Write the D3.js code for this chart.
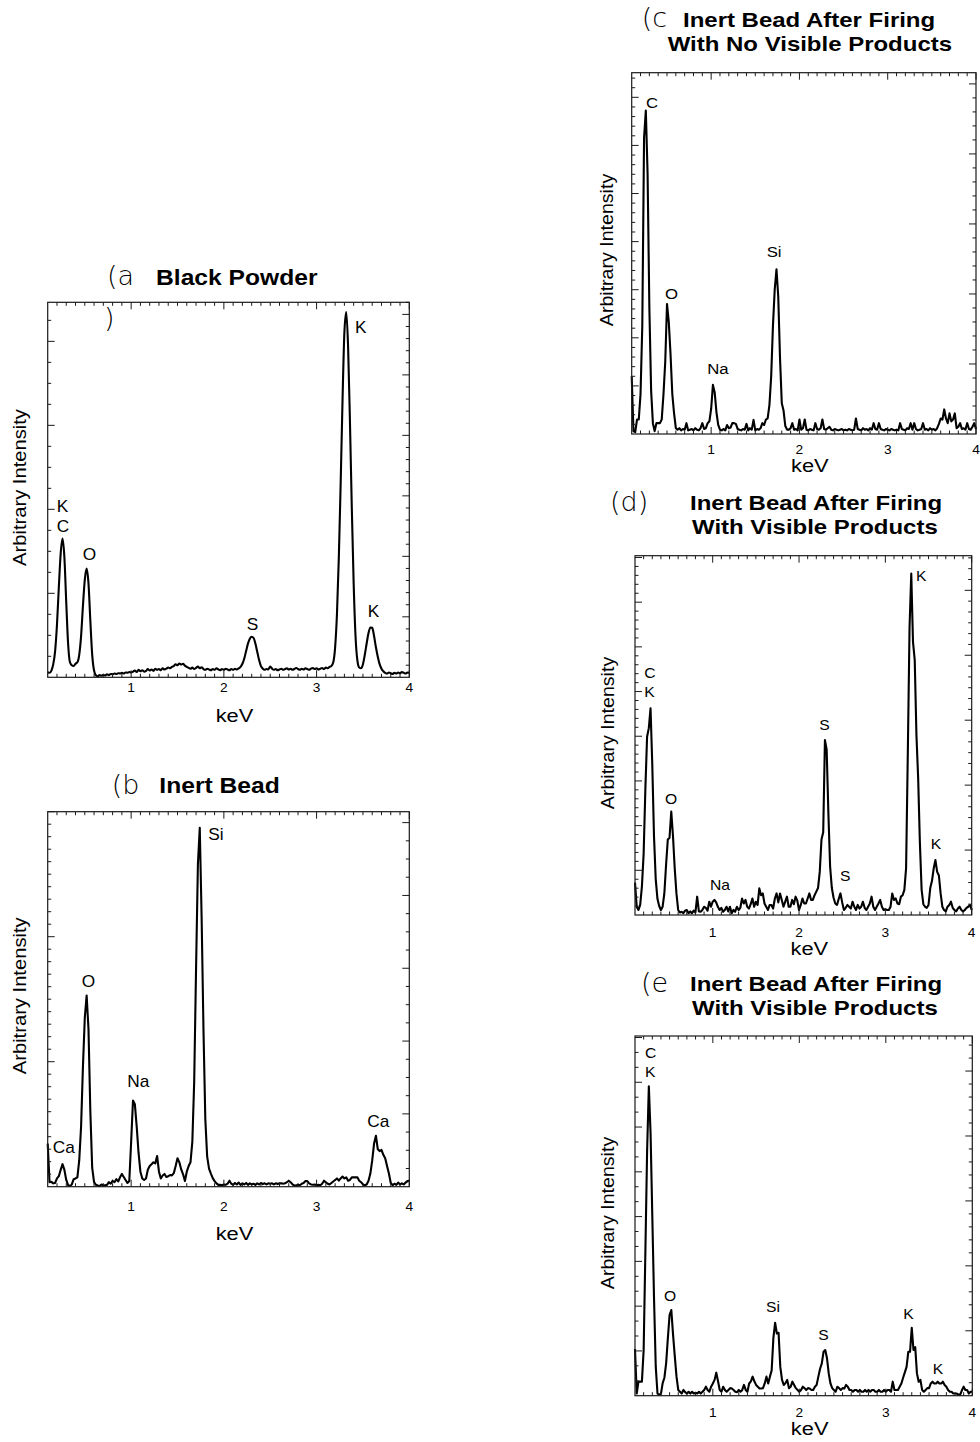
<!DOCTYPE html>
<html>
<head>
<meta charset="utf-8">
<script src="https://cdn.jsdelivr.net/npm/d3@7"></script>
<style>
  html, body { margin: 0; padding: 0; background: #fff; }
  svg { display: block; }
</style>
</head>
<body>
<svg id="fig" width="980" height="1442"></svg>
<script>
// ---------------------------------------------------------------
// EDS spectra: intensity (percent of panel full scale) per channel.
// Channels start at 0.10 keV and are 0.02 keV wide (0.10 … 4.00).
// ---------------------------------------------------------------
const ENERGY_START = 0.1;
const ENERGY_STEP = 0.02;
const energyMajorTicks = [1, 2, 3, 4];
const energyTickLabels = ["1", "2", "3", "4"];

// (a) black powder
const blackPowder = [
  1.4, 1.2, 1.8, 3.5, 7, 14, 24, 33, 37, 32,
  20, 9, 4, 3.2, 3.0, 3.6, 4.0, 6, 11, 19,
  26, 29, 25, 15, 6, 1.8, 0.5, 0.3, 0.6, 0.4,
  0.7, 0.5, 0.8, 0.6, 0.9, 0.8, 1.0, 0.9, 1.1, 1.0,
  1.2, 1.0, 1.3, 1.2, 1.4, 1.3, 1.5, 1.8, 1.4, 2.0,
  1.6, 1.9, 1.5, 1.7, 2.2, 1.8, 2.1, 1.7, 2.3, 2.0,
  2.2, 1.9, 2.4, 2.1, 2.3, 2.6, 2.4, 2.8, 3.0, 3.5,
  3.2, 3.7, 3.4, 3.6, 3.1, 2.8, 2.5, 2.3, 2.6, 2.2,
  2.5, 2.9, 2.4, 2.7, 2.2, 2.0, 2.3, 2.1, 1.9, 2.2,
  2.0, 2.4, 2.1, 1.9, 2.2, 2.0, 2.3, 2.1, 1.9, 2.2,
  2.0, 2.3, 2.1, 2.4, 2.8, 3.6, 5.0, 7.0, 9.0, 10.3,
  10.8, 10.5, 9.0, 6.8, 4.6, 3.0, 2.3, 2.0, 2.2, 2.1,
  2.9, 2.3, 2.0, 2.2, 1.9, 2.1, 2.3, 2.0, 2.2, 2.4,
  2.1, 2.3, 2.0, 2.2, 2.5, 2.2, 2.0, 2.3, 2.1, 2.4,
  2.2, 2.0, 2.3, 2.5, 2.2, 2.4, 2.1, 2.3, 2.5, 2.2,
  2.6, 2.4, 2.8, 3.0, 4.0, 8, 17, 32, 52, 74,
  92, 97.4, 88, 68, 45, 25, 11, 4.5, 2.6, 2.4,
  3.5, 6, 9, 11.8, 13.3, 13.2, 11, 8, 5.5, 3.5,
  2.3, 1.6, 1.2, 1.0, 1.3, 1.1, 0.9, 1.2, 1.0, 1.3,
  1.1, 1.4, 1.2, 1.0, 1.3, 1.2
];

// (b) inert bead
const inertBead = [
  11.5, 1.2, 1.3, 0.9, 1.0, 2.2, 2.8, 4.5, 6.0, 4.5,
  1.8, 0.4, 0.2, 0.6, 2.0, 2.2, 2.5, 7, 16, 32,
  45, 51, 42, 20, 5, 1.2, 0.5, 0.3, 0.2, 0.6,
  0.3, 0.4, 0.5, 1.2, 0.8, 1.6, 1.2, 2.0, 1.4, 2.5,
  3.4, 2.6, 1.8, 1.0, 1.5, 12, 23, 22, 16, 9,
  4, 2.2, 1.8, 2.2, 4.5, 5.5, 6.0, 6.5, 6.2, 8.2,
  4.0, 2.2, 3.0, 3.4, 2.6, 2.8, 3.1, 3.0, 3.6, 5.5,
  7.6, 6.5, 4.6, 3.3, 1.5, 4.0, 5.5, 6.5, 12, 28,
  58, 86, 95.7, 72, 42, 18, 8, 4.8, 3.5, 2.3,
  1.5, 0.9, 0.5, 0.5, 0.4, 0.6, 0.5, 0.8, 1.6, 0.8,
  0.5, 1.0, 0.6, 1.1, 0.5, 0.9, 0.6, 1.0, 0.5, 0.9,
  0.6, 0.8, 0.5, 0.9, 0.6, 1.0, 0.7, 0.9, 0.6, 0.9,
  0.8, 0.9, 0.6, 0.9, 0.7, 0.9, 0.9, 0.8, 0.9, 1.2,
  1.6, 1.2, 0.6, 0.4, 0.3, 0.5, 0.4, 0.8, 1.0, 1.5,
  1.5, 0.9, 0.6, 0.5, 0.6, 0.4, 0.5, 0.4, 0.8, 1.6,
  1.2, 0.8, 0.6, 1.0, 1.4, 1.8, 2.2, 1.6, 2.2, 2.7,
  2.2, 2.5, 1.6, 1.8, 2.5, 2.5, 2.5, 2.5, 1.6, 1.2,
  0.6, 0.4, 0.6, 1.6, 3.5, 7, 11.5, 13.6, 10, 9.5,
  9.8, 8.5, 7.6, 5.5, 3.5, 1.0, 0.4, 0.8, 0.5, 1.1,
  0.6, 0.9, 0.6, 1.1, 1.5, 1.6
];

// (c) inert bead after firing, no visible products
const firedNoProducts = [
  16, 0.8, 0.5, 4, 4, 11, 30, 82, 89.5, 72,
  35, 12, 3, 0.8, 3, 3, 3, 4, 11, 20,
  36, 31, 22, 11, 5.7, 1.6, 1.2, 1.6, 1.0, 1.4,
  1.2, 3, 1.0, 1.2, 1.4, 1.0, 1.6, 1.2, 1.0, 1.6,
  3, 1.4, 1.6, 3, 3.5, 7, 13.6, 11.5, 6, 2.5,
  1.2, 1.0, 1.4, 1.0, 2.5, 1.6, 1.8, 3, 3, 2.8,
  1.4, 1.2, 1.0, 1.4, 1.2, 2.8, 1.0, 1.6, 1.2, 3.9,
  1.0, 1.4, 1.2, 1.6, 3, 2.5, 4, 4.3, 8, 16,
  30, 40, 45.6, 38, 21, 8.5, 6.5, 2.2, 1.2, 1.2,
  1.6, 3, 1.2, 1.4, 1.0, 4, 1.2, 1.6, 4, 1.2,
  1.0, 1.4, 1.2, 1.0, 3, 1.4, 1.2, 1.6, 4, 1.4,
  1.2, 1.6, 2.0, 1.2, 1.0, 1.4, 1.2, 1.0, 1.2, 1.4,
  1.0, 1.2, 1.0, 1.4, 1.2, 1.0, 1.2, 4.3, 1.4, 1.2,
  1.0, 1.6, 1.2, 1.4, 1.0, 1.6, 1.2, 3, 1.4, 1.2,
  3, 1.4, 1.2, 1.0, 1.4, 1.2, 1.0, 1.4, 1.2, 1.0,
  1.2, 1.0, 3, 1.4, 1.2, 1.0, 1.6, 1.4, 3, 1.2,
  3, 1.4, 1.0, 1.2, 1.4, 3, 1.2, 1.4, 1.0, 1.6,
  1.2, 1.4, 1.0, 1.6, 2.8, 4.3, 4, 6.8, 4.3, 3,
  5.7, 3.5, 4, 5.7, 1.6, 2, 3, 1.4, 1.6, 1.2,
  3, 1.4, 1.2, 2, 3, 1.4
];

// (d) inert bead after firing, visible products
const firedProductsD = [
  9, 2.3, 1.4, 2.8, 7.9, 17, 35, 49.6, 52, 57.5,
  42, 22, 10, 4.5, 2.5, 1.4, 2.3, 6, 14, 21,
  21.5, 28.8, 22, 13, 6, 1.4, 0.7, 0.9, 0.5, 1.2,
  1.4, 0.5, 1.0, 0.5, 1.2, 0.7, 5.1, 1.0, 0.9, 1.4,
  2.3, 2.0, 1.2, 3.7, 2.3, 3.7, 4.2, 3.5, 2.3, 1.4,
  2.0, 0.9, 1.4, 2.3, 1.0, 2.3, 0.5, 1.4, 0.9, 2.3,
  1.4, 2.0, 4.6, 3.2, 4.2, 2.3, 1.8, 3.0, 4.6, 2.3,
  3.7, 2.8, 7.4, 5.5, 6.0, 3.2, 2.3, 1.4, 2.8, 2.8,
  1.8, 4.6, 6.0, 3.5, 6.0, 4.2, 2.3, 3.7, 5.1, 2.3,
  2.3, 4.2, 3.0, 5.1, 4.0, 1.4, 2.8, 4.6, 3.2, 3.2,
  4.6, 6.0, 4.2, 4.2, 5.5, 6.5, 7.5, 12, 21, 23,
  48.7, 46, 28.3, 13.5, 7.5, 4.8, 3.2, 2.8, 4.5, 6.0,
  3.5, 1.4, 2.0, 2.8, 2.3, 1.8, 3.7, 2.3, 1.4, 2.8,
  1.8, 2.3, 3.7, 2.0, 1.4, 2.3, 3.2, 5.1, 2.3, 1.4,
  2.3, 3.2, 4.2, 2.3, 1.4, 1.6, 1.4, 1.4, 2.3, 6.0,
  4.2, 4.6, 3.2, 3.0, 5.1, 5.5, 7.0, 13, 45, 80,
  95, 76, 71, 50, 38, 20, 7, 3, 2.3, 2.0,
  2.8, 7.5, 9.5, 13, 15.3, 12, 11, 6, 2.3, 1.4,
  1.0, 2.3, 2.8, 3.7, 2.0, 1.4, 1.0, 1.8, 2.3, 1.4,
  1.0, 1.4, 2.0, 2.3, 2.8, 1.4
];

// (e) inert bead after firing, visible products (second site)
const firedProductsE = [
  13, 0.6, 3.9, 3.9, 3.9, 12.7, 40, 68, 86, 73,
  50, 27, 8, 0.6, 0.3, 0.5, 3.5, 5, 9, 16,
  22.5, 23.8, 17, 11, 5.3, 1.6, 1.1, 0.6, 1.6, 1.0,
  0.6, 1.1, 0.6, 1.1, 0.6, 0.8, 0.6, 1.1, 0.6, 1.1,
  1.6, 2.5, 1.6, 1.1, 2.5, 3.4, 4.4, 6.4, 4.0, 1.6,
  1.1, 2.5, 1.6, 1.1, 1.6, 2.1, 2.0, 1.6, 1.1, 1.0,
  1.6, 1.1, 1.6, 3.0, 1.6, 1.1, 3.4, 4.0, 5.3, 4.0,
  3.0, 2.5, 2.0, 2.0, 2.1, 3.4, 5.3, 3.4, 5.3, 7,
  16, 20.3, 17.3, 17.5, 8, 4.4, 3.0, 3.5, 4.4, 2.1,
  2.5, 3.9, 3.0, 2.1, 1.6, 1.1, 1.6, 2.5, 2.1, 1.6,
  2.1, 2.0, 1.6, 1.6, 2.5, 3.0, 5.3, 7.5, 9, 12.2,
  12.7, 10.4, 6.2, 3.4, 2.1, 1.6, 1.1, 2.5, 2.1, 1.6,
  2.1, 2.0, 3.0, 2.5, 1.6, 1.6, 1.1, 1.6, 1.6, 1.1,
  1.6, 1.1, 1.1, 1.6, 1.1, 1.6, 1.1, 1.6, 1.6, 1.1,
  1.1, 1.6, 1.1, 1.1, 1.6, 1.1, 1.6, 1.6, 1.1, 3.9,
  1.6, 1.6, 1.6, 2.5, 3.4, 5, 6.5, 8, 12.2, 12.2,
  18.9, 12.7, 13.5, 6.2, 3.9, 4.4, 1.6, 1.1, 1.6, 2.1,
  2.1, 3.4, 3.9, 3.4, 3.4, 3.9, 3.4, 3.4, 3.9, 3.0,
  2.5, 1.6, 1.1, 1.1, 0.6, 0.6, 0.6, 0.3, 0.3, 1.5,
  2.5, 1.6, 1.6, 0.6, 1.1, 1.1
];

// Element labels anchored in data space: energy (keV), intensity (%)
const labelsA = [
  { text: "K",  e: 3.414, v: 91.7 },
  { text: "K",  e: 0.197, v: 44.0 },
  { text: "C",  e: 0.197, v: 38.8 },
  { text: "O",  e: 0.477, v: 31.3 },
  { text: "S",  e: 2.246, v: 12.6 },
  { text: "K",  e: 3.551, v: 16.0 }
];
const labelsB = [
  { text: "Si", e: 1.832, v: 92.5 },
  { text: "O",  e: 0.467, v: 53.3 },
  { text: "Na", e: 0.958, v: 26.7 },
  { text: "Ca", e: 0.154, v: 8.9 },
  { text: "Ca", e: 3.547, v: 15.8 }
];
const labelsC = [
  { text: "C",  e: 0.262, v: 90.1 },
  { text: "O",  e: 0.477, v: 37.4 },
  { text: "Na", e: 0.956, v: 16.6 },
  { text: "Si", e: 1.629, v: 48.9 }
];
const labelsD = [
  { text: "C",  e: 0.208, v: 66.0 },
  { text: "K",  e: 0.208, v: 60.8 },
  { text: "O",  e: 0.448, v: 30.9 },
  { text: "Na", e: 0.969, v: 7.0 },
  { text: "S",  e: 2.235, v: 51.5 },
  { text: "S",  e: 2.475, v: 9.5 },
  { text: "K",  e: 3.355, v: 93.0 },
  { text: "K",  e: 3.525, v: 18.3 }
];
const labelsE = [
  { text: "C",  e: 0.216, v: 93.8 },
  { text: "K",  e: 0.216, v: 88.7 },
  { text: "O",  e: 0.435, v: 26.4 },
  { text: "Si", e: 1.615, v: 23.4 },
  { text: "S",  e: 2.219, v: 15.5 },
  { text: "K",  e: 3.202, v: 21.3 },
  { text: "K",  e: 3.542, v: 5.9 }
];

// ---------------------------------------------------------------
// Layout and styling of the five panels
// ---------------------------------------------------------------
const SANS = "'Liberation Sans', Arial, Helvetica, sans-serif";
const TAGFONT = "'DejaVu Sans', 'Noto Sans CJK JP', sans-serif";

const panels = [
  {
    series: blackPowder, labels: labelsA, curve: d3.curveMonotoneX,
    frame: { x: 47.7, y: 302.3, w: 361.6, h: 375 },
    leftTicks: { max: 17.86, major: 4 }, rightTicks: { max: 31, major: 5 },
    tag: { text: "(a", x: 107, y: 285 }, tagTail: { text: ")", x: 104, y: 327 },
    titleLines: [{ text: "Black Powder", x: 156, y: 285 }],
    titleSize: 22, titleSx: 1.12,
    peakSize: 16, tickY: 692, kevY: 722, yLabel: { x: 25.5, y: 487.5, size: 18 }
  },
  {
    series: inertBead, labels: labelsB, curve: d3.curveLinear,
    frame: { x: 47.7, y: 811.7, w: 361.6, h: 375 },
    leftTicks: { max: 30, major: 10 }, rightTicks: { max: 20.6, major: 4 },
    tag: { text: "(b", x: 111.7, y: 794 },
    titleLines: [{ text: "Inert Bead", x: 159.3, y: 792.7 }],
    titleSize: 22, titleSx: 1.12,
    peakSize: 16, tickY: 1211, kevY: 1240, yLabel: { x: 25.5, y: 995.8, size: 18 }
  },
  {
    series: firedNoProducts, labels: labelsC, curve: d3.curveLinear,
    frame: { x: 631.7, y: 72.7, w: 344.3, h: 361.3 },
    leftTicks: { max: 37.56, major: 5 }, rightTicks: { max: 25.8, major: 5 },
    tag: { text: "(c", x: 641.7, y: 27 },
    titleLines: [
      { text: "Inert Bead After Firing", x: 683, y: 26.7 },
      { text: "With No Visible Products", x: 667.7, y: 50.7 }
    ],
    titleSize: 20.5, titleSx: 1.17,
    peakSize: 15.5, tickY: 454, kevY: 472, yLabel: { x: 612.5, y: 250, size: 17.5 }
  },
  {
    series: firedProductsD, labels: labelsD, curve: d3.curveLinear,
    frame: { x: 635, y: 555.7, w: 336.7, h: 359.3 },
    leftTicks: { max: 40.2, major: 5 }, rightTicks: { max: 33.2, major: 6 },
    tag: { text: "(d)", x: 610, y: 511 },
    titleLines: [
      { text: "Inert Bead After Firing", x: 690, y: 510 },
      { text: "With Visible Products", x: 692, y: 534 }
    ],
    titleSize: 20.5, titleSx: 1.17,
    peakSize: 14.5, tickY: 936.7, kevY: 955, yLabel: { x: 614, y: 733, size: 17.5 }
  },
  {
    series: firedProductsE, labels: labelsE, curve: d3.curveLinear,
    frame: { x: 635, y: 1036, w: 337.3, h: 359.7 },
    leftTicks: { max: 24.1, major: 3 }, rightTicks: { max: 27.7, major: 5 },
    tag: { text: "(e", x: 641, y: 992 },
    titleLines: [
      { text: "Inert Bead After Firing", x: 690, y: 991 },
      { text: "With Visible Products", x: 692, y: 1015 }
    ],
    titleSize: 20.5, titleSx: 1.17,
    peakSize: 14.5, tickY: 1416.7, kevY: 1435, yLabel: { x: 613.5, y: 1213, size: 17.5 }
  }
];

// ---------------------------------------------------------------
// Drawing
// ---------------------------------------------------------------
const svg = d3.select("#fig");

function addText(g, str, x, y, o) {
  return g.append("text")
    .attr("transform", `translate(${x},${y})` + (o.rotate ? ` rotate(${o.rotate})` : "") + ` scale(${o.sx == null ? 1.1 : o.sx},1)`)
    .attr("font-family", o.family || SANS)
    .attr("font-size", o.size)
    .attr("font-weight", o.weight || 400)
    .attr("text-anchor", o.anchor || "start")
    .attr("fill", "#000")
    .text(str);
}

const MINOR = 3.5, MAJOR = 7;

panels.forEach(p => {
  const f = p.frame;
  const g = svg.append("g");

  const x = d3.scaleLinear().domain([0.1, 4]).range([f.x, f.x + f.w]);
  const y = d3.scaleLinear().domain([0, 100]).range([f.y + f.h, f.y]);
  const yl = d3.scaleLinear().domain([0, p.leftTicks.max]).range([f.y + f.h, f.y]);
  const yr = d3.scaleLinear().domain([0, p.rightTicks.max]).range([f.y + f.h, f.y]);

  // spectrum
  const pts = p.series.map((v, i) => [ENERGY_START + i * ENERGY_STEP, v]);
  const line = d3.line().x(d => x(d[0])).y(d => y(d[1])).curve(p.curve);
  g.append("path").datum(pts)
    .attr("d", line)
    .attr("fill", "none")
    .attr("stroke", "#000")
    .attr("stroke-width", 2.1)
    .attr("stroke-linejoin", "round");

  // frame
  g.append("rect")
    .attr("x", f.x).attr("y", f.y).attr("width", f.w).attr("height", f.h)
    .attr("fill", "none").attr("stroke", "#1a1a1a").attr("stroke-width", 1.2);

  // energy ticks (top and bottom, inward), every 0.1 keV, longer at whole keV
  const tickG = g.append("g").attr("stroke", "#1a1a1a").attr("stroke-width", 1);
  d3.range(2, 41).forEach(k => {
    const e = k / 10;
    const len = k % 10 === 0 ? MAJOR : MINOR;
    const xx = x(e);
    tickG.append("line").attr("x1", xx).attr("x2", xx).attr("y1", f.y).attr("y2", f.y + len);
    tickG.append("line").attr("x1", xx).attr("x2", xx).attr("y1", f.y + f.h).attr("y2", f.y + f.h - len);
  });

  // left intensity ticks
  d3.range(1, Math.floor(p.leftTicks.max) + 1).forEach(k => {
    const len = k % p.leftTicks.major === 0 ? MAJOR : MINOR;
    const yy = yl(k);
    tickG.append("line").attr("x1", f.x).attr("x2", f.x + len).attr("y1", yy).attr("y2", yy);
  });
  // right intensity ticks
  d3.range(1, Math.floor(p.rightTicks.max) + 1).forEach(k => {
    const len = k % p.rightTicks.major === 0 ? MAJOR : MINOR;
    const yy = yr(k);
    tickG.append("line").attr("x1", f.x + f.w).attr("x2", f.x + f.w - len).attr("y1", yy).attr("y2", yy);
  });

  // energy tick labels
  energyMajorTicks.forEach((e, i) => {
    addText(g, energyTickLabels[i], x(e), p.tickY, { size: 12.5, anchor: "middle", sx: 1.1 });
  });

  // axis titles
  addText(g, "keV", f.x + f.w / 2 + 6, p.kevY, { size: 19, anchor: "middle", sx: 1.15 });
  addText(g, "Arbitrary Intensity", p.yLabel.x, p.yLabel.y,
    { size: p.yLabel.size, anchor: "middle", rotate: -90, sx: 1.12 });

  // element labels
  p.labels.forEach(l => {
    addText(g, l.text, x(l.e), y(l.v), { size: p.peakSize, sx: 1.08 });
  });

  // panel tag and title
  addText(g, p.tag.text, p.tag.x, p.tag.y, { size: 27, family: TAGFONT, weight: 200, sx: 1.0 });
  if (p.tagTail) addText(g, p.tagTail.text, p.tagTail.x, p.tagTail.y, { size: 27, family: TAGFONT, weight: 200, sx: 1.0 });
  p.titleLines.forEach(t => {
    addText(g, t.text, t.x, t.y, { size: p.titleSize, weight: 700, sx: p.titleSx });
  });
});
</script>
</body>
</html>
